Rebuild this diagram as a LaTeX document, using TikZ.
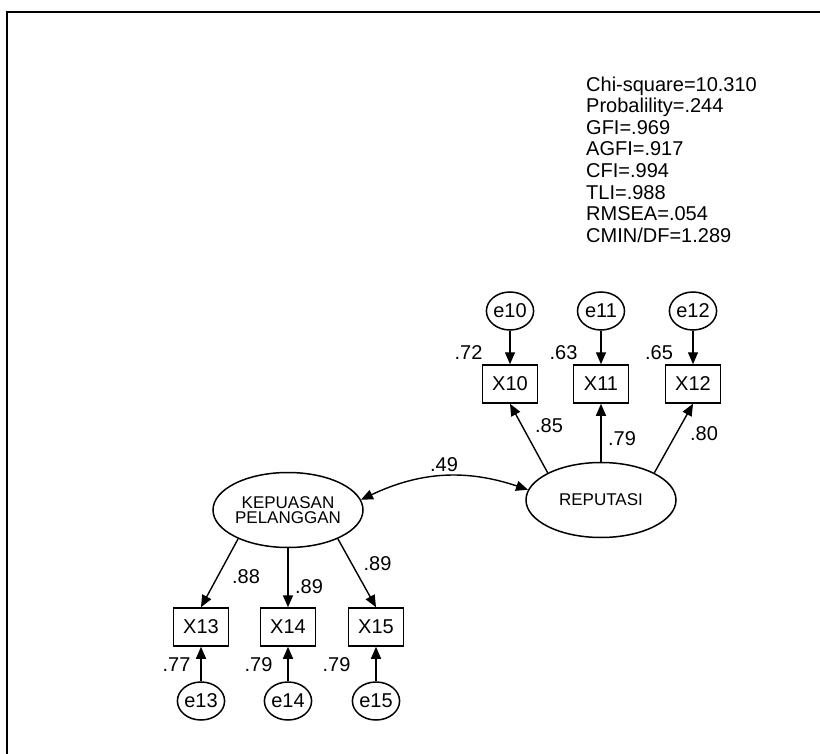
\documentclass[tikz,border=0pt]{standalone}
\usepackage{fontspec}
\setmainfont{Liberation Sans}
\usetikzlibrary{shapes.geometric,arrows.meta}

\tikzset{
  indicator/.style={draw, line width=1.5pt, minimum width=55pt, minimum height=38pt, inner sep=0pt, font=\fontsize{20}{22}\selectfont},
  errterm/.style={draw, ellipse, line width=1.5pt, minimum width=47pt, minimum height=38pt, inner sep=0pt, font=\fontsize{20}{22}\selectfont},
  latent/.style={draw, ellipse, line width=1.5pt, minimum width=150pt, minimum height=75pt, inner sep=0pt, align=center, font=\fontsize{17}{15.5}\selectfont},
  load/.style={-{Triangle[length=12pt,width=10pt]}, line width=1.4pt},
  cov/.style={{Triangle[length=12pt,width=10pt]}-{Triangle[length=12pt,width=10pt]}, line width=1.4pt},
  coef/.style={inner sep=0pt, font=\fontsize{20}{22}\selectfont},
}

\begin{document}
\begin{tikzpicture}[x=1pt, y=-1pt]
    \useasboundingbox (0,0) rectangle (820,754);

    % Frame (only top and left edges are visible)
    \draw[line width=2pt] (7,754) -- (7,12) -- (820,12);

    % Fit indices
    \node[anchor=north west, inner sep=0pt, align=left, font=\fontsize{20}{21.6}\selectfont] (fit) at (586,76.5) {Chi-square=10.310\\Probalility=.244\\GFI=.969\\AGFI=.917\\CFI=.994\\TLI=.988\\RMSEA=.054\\CMIN/DF=1.289};

    % Latent variables
    \node[latent] (kep) at (288,510) {KEPUASAN\\PELANGGAN};
    \node[latent] (rep) at (601,500) {REPUTASI};

    % Indicators of REPUTASI with their error terms
    \foreach \i/\x in {10/510, 11/601, 12/693} {
      \node[indicator] (x\i) at (\x,384) {X\i};
      \node[errterm] (e\i) at (\x,311) {e\i};
      \draw[load] (e\i) -- (x\i);
    }
    \node[coef] (r10) at (468.5,352.5) {.72};
    \node[coef] (r11) at (563.5,352.5) {.63};
    \node[coef] (r12) at (659,352.5) {.65};

    % Loadings of REPUTASI
    \draw[load] (rep.153) -- (x10.south);
    \draw[load] (rep.north) -- (x11.south);
    \draw[load] (rep.27) -- (x12.south);
    \node[coef] (l10) at (549,425.5) {.85};
    \node[coef] (l11) at (622,438.5) {.79};
    \node[coef] (l12) at (704,433.5) {.80};

    % Indicators of KEPUASAN PELANGGAN with their error terms
    \foreach \i/\x in {13/201, 14/288, 15/376} {
      \node[indicator] (x\i) at (\x,627) {X\i};
      \node[errterm] (e\i) at (\x,701) {e\i};
      \draw[load] (e\i) -- (x\i);
    }
    \node[coef] (r13) at (176.5,665) {.77};
    \node[coef] (r14) at (258.5,665) {.79};
    \node[coef] (r15) at (336.5,665) {.79};

    % Loadings of KEPUASAN PELANGGAN
    \draw[load] (kep.210) -- (x13.north);
    \draw[load] (kep.south) -- (x14.north);
    \draw[load] (kep.330) -- (x15.north);
    \node[coef] (l13) at (246,576.5) {.88};
    \node[coef] (l14) at (309,586.5) {.89};
    \node[coef] (l15) at (377.5,563.5) {.89};

    % Correlation between the latent variables
    \draw[cov] (kep.8) to[bend left=22] (rep.172);
    \node[coef] (c1) at (444,464.5) {.49};
\end{tikzpicture}
\end{document}
